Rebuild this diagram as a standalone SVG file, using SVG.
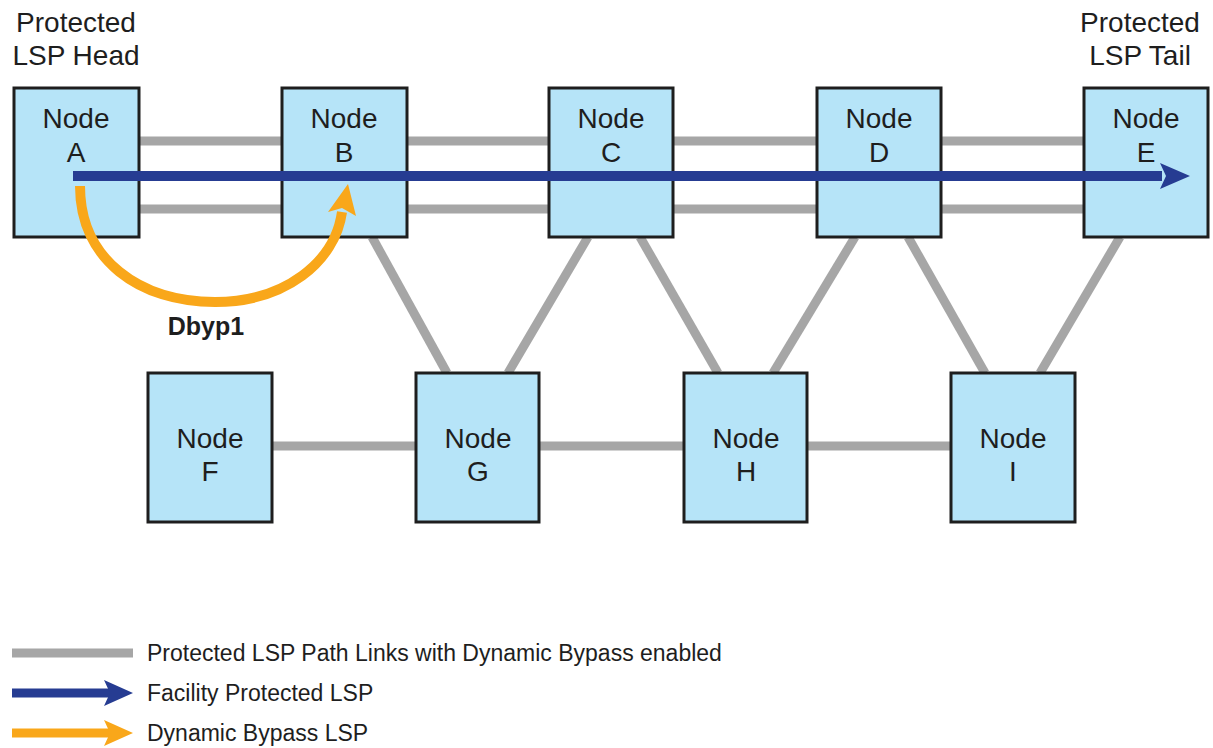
<svg xmlns="http://www.w3.org/2000/svg" width="1213" height="748" viewBox="0 0 1213 748">
<style>
.node rect{fill:#b6e4f8;stroke:#1e1e1e;stroke-width:3}
.node text,.lbl{font-family:"Liberation Sans",Arial,sans-serif;font-size:28px;fill:#1e1e1e;text-anchor:middle}
.link{stroke:#a6a6a6;stroke-width:9;fill:none}
.leg{font-family:"Liberation Sans",Arial,sans-serif;font-size:23px;fill:#1e1e1e}
</style>
<rect width="1213" height="748" fill="#ffffff"/>
<g id="connectors">
<line class="link" x1="139" y1="141" x2="1084" y2="141"/>
<line class="link" x1="139" y1="209" x2="1084" y2="209"/>
<line class="link" x1="272" y1="446" x2="951" y2="446"/>
<line class="link" x1="372" y1="237" x2="447" y2="373"/>
<line class="link" x1="588" y1="237" x2="508" y2="373"/>
<line class="link" x1="640" y1="237" x2="718" y2="373"/>
<line class="link" x1="855" y1="237" x2="773" y2="373"/>
<line class="link" x1="908" y1="237" x2="985" y2="373"/>
<line class="link" x1="1120" y1="237" x2="1040" y2="373"/>
</g>
<g id="nodeA" class="node"><rect x="14" y="88" width="125" height="149"/><text x="76" y="128">Node</text><text x="76" y="162">A</text></g>
<g id="nodeB" class="node"><rect x="282" y="88" width="125" height="149"/><text x="344" y="128">Node</text><text x="344" y="162">B</text></g>
<g id="nodeC" class="node"><rect x="549" y="88" width="124" height="149"/><text x="611" y="128">Node</text><text x="611" y="162">C</text></g>
<g id="nodeD" class="node"><rect x="817" y="88" width="124" height="149"/><text x="879" y="128">Node</text><text x="879" y="162">D</text></g>
<g id="nodeE" class="node"><rect x="1084" y="88" width="124" height="149"/><text x="1146" y="128">Node</text><text x="1146" y="162">E</text></g>
<g id="nodeF" class="node"><rect x="148" y="373" width="124" height="149"/><text x="210" y="448">Node</text><text x="210" y="481">F</text></g>
<g id="nodeG" class="node"><rect x="416" y="373" width="123" height="149"/><text x="478" y="448">Node</text><text x="478" y="481">G</text></g>
<g id="nodeH" class="node"><rect x="684" y="373" width="123" height="149"/><text x="746" y="448">Node</text><text x="746" y="481">H</text></g>
<g id="nodeI" class="node"><rect x="951" y="373" width="124" height="149"/><text x="1013" y="448">Node</text><text x="1013" y="481">I</text></g>
<g id="lsp">
<line x1="73" y1="176" x2="1162" y2="176" stroke="#263c92" stroke-width="10"/>
<polygon points="1160,163 1190,176 1160,189 1166,176" fill="#263c92"/>
</g>
<g id="bypass">
<path d="M80,186 C80,260 140,302 215,302 C285,302 335,262 342,212" stroke="#f9a71a" stroke-width="10" fill="none"/>
<polygon points="348,184 356,216 342,208 328,212" fill="#f9a71a"/>
<text x="206" y="335" font-family="'Liberation Sans',Arial,sans-serif" font-size="25" font-weight="bold" fill="#1e1e1e" text-anchor="middle">Dbyp1</text>
</g>
<g id="headers">
<text class="lbl" x="76" y="32">Protected</text>
<text class="lbl" x="76" y="65">LSP Head</text>
<text class="lbl" x="1140" y="32">Protected</text>
<text class="lbl" x="1140" y="65">LSP Tail</text>
</g>
<g id="legend">
<line class="link" x1="12" y1="653" x2="133" y2="653"/>
<text class="leg" x="147" y="661">Protected LSP Path Links with Dynamic Bypass enabled</text>
<line x1="12" y1="693" x2="112" y2="693" stroke="#263c92" stroke-width="9"/>
<polygon points="104,680 133,693 104,706 110,693" fill="#263c92"/>
<text class="leg" x="147" y="701">Facility Protected LSP</text>
<line x1="12" y1="733" x2="112" y2="733" stroke="#f9a71a" stroke-width="9"/>
<polygon points="104,720 133,733 104,746 110,733" fill="#f9a71a"/>
<text class="leg" x="147" y="741">Dynamic Bypass LSP</text>
</g>
</svg>
